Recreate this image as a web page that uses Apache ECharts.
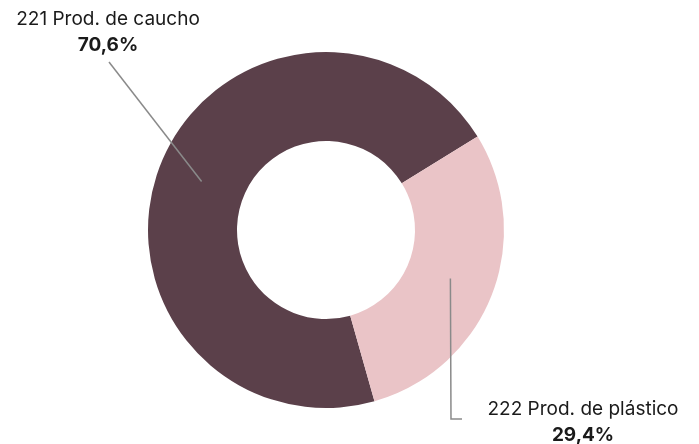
<!DOCTYPE html>
<html>
<head>
<meta charset="utf-8">
<script src="https://cdn.jsdelivr.net/npm/echarts@6/dist/echarts.min.js"></script>
<style>
  html, body { margin: 0; padding: 0; background: #fff; }
  #chart { width: 699px; height: 444px; }
</style>
</head>
<body>
<div id="chart"></div>
<script>
// datos
const categories = ["221 Prod. de caucho", "222 Prod. de plástico"];
const shares = [70.6, 29.4];
const colors = ["#5B404A", "#EAC4C7"];

const cx = 326, cy = 230, rIn = 89, rOut = 178;
const startAngle = 285.8;

// where each label sits (text anchor, top-centre) and where its leader ends
const labelPos = [
    { x: 108, y: 6, end: [[109, 62]] },
    { x: 583, y: 396, end: [[451, 419], [462, 419]] }
];

function midPoint(i) {
    const total = shares.reduce((a, b) => a + b, 0);
    let before = 0;
    for (let k = 0; k < i; k++) before += shares[k];
    const mid = startAngle - (before + shares[i] / 2) / total * 360;
    const rad = mid * Math.PI / 180;
    const r = (rIn + rOut) / 2;
    return [cx + r * Math.cos(rad), cy - r * Math.sin(rad)];
}

const baseSeries = {
    type: "pie",
    center: [cx, cy],
    radius: [rIn, rOut],
    startAngle: startAngle,
    clockwise: true,
    avoidLabelOverlap: false,
    emphasis: { disabled: true }
};

const chart = echarts.init(document.getElementById("chart"));
chart.setOption({
    animation: false,
    backgroundColor: "#fff",
    series: [
        Object.assign({}, baseSeries, {
            z: 2,
            data: categories.map((c, i) => ({
                name: c,
                value: shares[i],
                itemStyle: { color: colors[i] }
            })),
            label: { show: false },
            labelLine: { show: false }
        }),
        // transparent copy on top so the leader lines sit over the ring
        Object.assign({}, baseSeries, {
            z: 5,
            silent: true,
            data: categories.map((c, i) => ({
                name: c,
                value: shares[i],
                itemStyle: { color: "rgba(0,0,0,0)" }
            })),
            label: {
                show: true,
                position: "outside",
                formatter: p => "{n|" + p.name + "}\n{v|" + p.value.toFixed(1).replace(".", ",") + "%}",
                rich: {
                    n: { fontFamily: "Inter", fontSize: 19, color: "#1a1a1a", lineHeight: 26, align: "center" },
                    v: { fontFamily: "Inter", fontSize: 19, fontWeight: "bold", color: "#1a1a1a", lineHeight: 26, align: "center" }
                }
            },
            labelLine: {
                show: true,
                lineStyle: { color: "#8a8a8a", width: 1.5 }
            },
            labelLayout: function (params) {
                const i = params.dataIndex;
                const lp = labelPos[i];
                const pts = [midPoint(i)].concat(lp.end);
                if (pts.length < 3) pts.push(pts[pts.length - 1]);
                return {
                    x: lp.x,
                    y: lp.y,
                    align: "center",
                    verticalAlign: "top",
                    labelLinePoints: pts
                };
            }
        })
    ]
});
</script>
</body>
</html>
